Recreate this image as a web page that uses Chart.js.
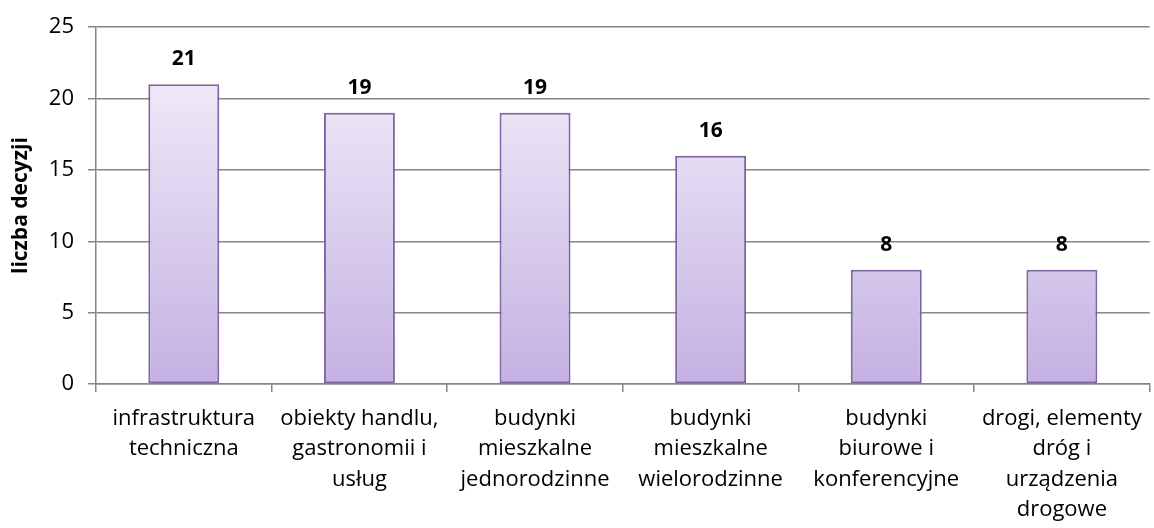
<!DOCTYPE html>
<html>
<head>
<meta charset="utf-8">
<script src="https://cdn.jsdelivr.net/npm/chart.js@4"></script>
<style>
  html, body { margin: 0; padding: 0; background: #fff; }
  #wrap { width: 1154px; height: 528px; }
</style>
</head>
<body>
<div id="wrap"><canvas id="chart" width="1154" height="528"></canvas></div>
<script>
// chart data
const categories = [
  ["infrastruktura", "techniczna"],
  ["obiekty handlu,", "gastronomii i", "usług"],
  ["budynki", "mieszkalne", "jednorodzinne"],
  ["budynki", "mieszkalne", "wielorodzinne"],
  ["budynki", "biurowe i", "konferencyjne"],
  ["drogi, elementy", "dróg i", "urządzenia", "drogowe"]
];
const decisions = [21, 19, 19, 16, 8, 8];
const yTicks = [0, 5, 10, 15, 20, 25];
const yTitle = "liczba decyzji";

const FONT = "'Open Sans', Lato, sans-serif";
const gridColor = "#868686";

// value labels above the bars
const valueLabels = {
  id: "valueLabels",
  afterDatasetsDraw(chart) {
    const ctx = chart.ctx;
    const meta = chart.getDatasetMeta(0);
    ctx.save();
    ctx.font = "bold 21px " + FONT;
    ctx.fillStyle = "#000";
    ctx.textAlign = "center";
    ctx.textBaseline = "middle";
    meta.data.forEach((bar, i) => {
      ctx.fillText(String(decisions[i]), bar.x, bar.y - 25);
    });
    ctx.restore();
  }
};

function barGradient(context) {
  const area = context.chart.chartArea;
  if (!area) return "#d9cdee";
  const g = context.chart.ctx.createLinearGradient(0, area.top + 50, 0, area.bottom);
  g.addColorStop(0, "#efeaf8");
  g.addColorStop(1, "#c4b1e2");
  return g;
}

new Chart(document.getElementById("chart"), {
  type: "bar",
  data: {
    labels: categories,
    datasets: [{
      data: decisions,
      backgroundColor: barGradient,
      borderColor: "#8064a2",
      borderWidth: 2,
      borderSkipped: false,
      categoryPercentage: 0.8,
      barPercentage: 0.505
    }]
  },
  options: {
    responsive: false,
    animation: false,
    events: [],
    layout: { padding: { top: 25, right: 2, left: 0, bottom: 0 } },
    plugins: {
      legend: { display: false },
      tooltip: { enabled: false }
    },
    scales: {
      x: {
        offset: true,
        grid: {
          offset: true,
          drawOnChartArea: false,
          color: gridColor,
          tickLength: 8,
          lineWidth: 1.5
        },
        border: { color: gridColor, width: 1.5 },
        ticks: {
          color: "#000",
          font: { family: FONT, size: 22, lineHeight: 1.37 },
          maxRotation: 0,
          autoSkip: false,
          padding: 12
        },
        afterFit(s) { s.height = 144; }
      },
      y: {
        min: 0,
        max: 25,
        afterBuildTicks(s) { s.ticks = yTicks.map(v => ({ value: v })); },
        grid: {
          color: gridColor,
          tickLength: 8,
          lineWidth: 1.5
        },
        border: { color: gridColor, width: 1.5 },
        ticks: {
          color: "#000",
          font: { family: FONT, size: 22 },
          padding: 14
        },
        title: {
          display: true,
          text: yTitle,
          color: "#000",
          font: { family: FONT, size: 21, weight: "bold" },
          padding: { top: 8, bottom: 0 }
        },
        afterFit(s) { s.width = 96; }
      }
    }
  },
  plugins: [valueLabels]
});
</script>
</body>
</html>
